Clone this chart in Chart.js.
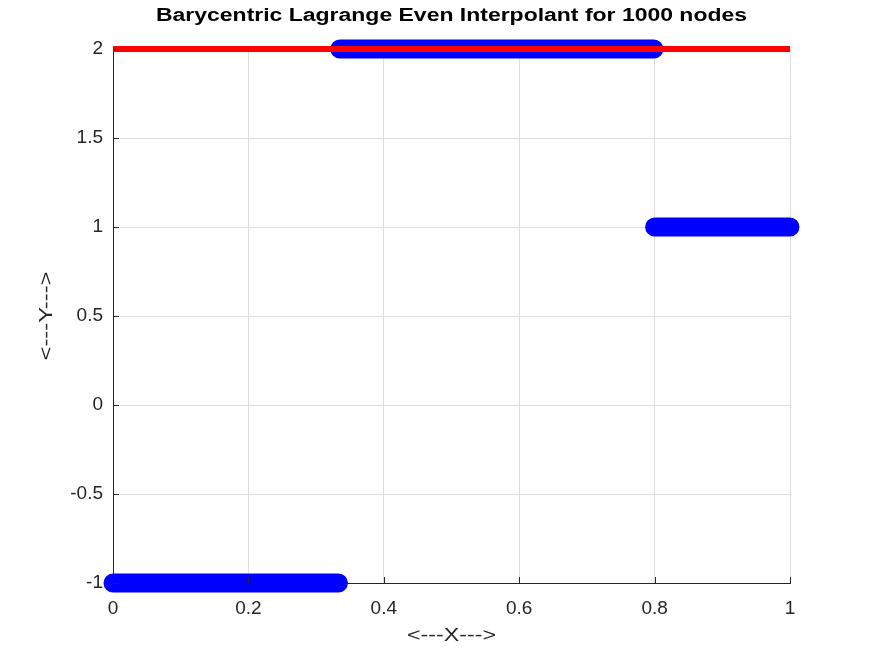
<!DOCTYPE html>
<html>
<head>
<meta charset="utf-8">
<script src="https://cdn.jsdelivr.net/npm/chart.js@4"></script>
<style>
  html, body { margin: 0; padding: 0; background: #fff; }
  #wrap { width: 873px; height: 655px; }
</style>
</head>
<body>
<div id="wrap"><canvas id="interp"></canvas></div>
<script>
// interpolant: the nodes sit on three flat runs, drawn as runs (null = break)
const nodeX = [0, 0.333, null, 0.335, 0.799, null, 0.8, 1];
const nodeY = [-1, -1, null, 2, 2, null, 1, 1];

// the function itself
const funcX = [0, 1];
const funcY = [2, 2];

const xTicks = [0, 0.2, 0.4, 0.6, 0.8, 1];
const yTicks = [-1, -0.5, 0, 0.5, 1, 1.5, 2];

const titleText = "Barycentric Lagrange Even Interpolant for 1000 nodes";
const xLabel = "<---X--->";
const yLabel = "<---Y--->";

const FONT = "'Liberation Sans', Arial, sans-serif";
const INK = "#262626";

// octave puts its ticks inside the box
const innerTicks = {
  id: "innerTicks",
  afterDatasetsDraw(chart) {
    const { ctx, chartArea: a, scales } = chart;
    ctx.save();
    ctx.strokeStyle = INK;
    ctx.lineWidth = 1;
    ctx.beginPath();
    xTicks.forEach((v) => {
      const px = Math.round(scales.x.getPixelForValue(v)) + 0.5;
      ctx.moveTo(px, a.bottom);
      ctx.lineTo(px, a.bottom - 6);
    });
    yTicks.forEach((v) => {
      const py = Math.round(scales.y.getPixelForValue(v)) + 0.5;
      ctx.moveTo(a.left, py);
      ctx.lineTo(a.left + 6, py);
    });
    ctx.stroke();
    ctx.restore();
  },
};

// the text in the original comes out wide, so squeeze it out sideways
function wideText(ctx, text, x, y, font, color, width, angle) {
  ctx.save();
  ctx.font = font;
  ctx.fillStyle = color;
  ctx.textAlign = "center";
  ctx.textBaseline = "middle";
  ctx.translate(x, y);
  if (angle) ctx.rotate(angle);
  ctx.scale(width / ctx.measureText(text).width, 1);
  ctx.fillText(text, 0, 0);
  ctx.restore();
}

const labels = {
  id: "labels",
  afterDraw(chart) {
    const ctx = chart.ctx;
    const a = chart.chartArea;
    const cx = (a.left + a.right) / 2;
    wideText(ctx, titleText, cx, 16, "bold 18px " + FONT, "#000", 591, 0);
    wideText(ctx, xLabel, cx, 636, "18px " + FONT, INK, 89, 0);
    wideText(ctx, yLabel, 47, (a.top + a.bottom) / 2, "18px " + FONT, INK, 89, -Math.PI / 2);
  },
};

new Chart(document.getElementById("interp"), {
  type: "line",
  data: {
    datasets: [
      {
        label: "f",
        data: funcX.map((x, i) => ({ x: x, y: funcY[i] })),
        borderColor: "#ff0000",
        borderWidth: 6,
        pointRadius: 0,
        clip: false,
        order: 0,
      },
      {
        label: "p",
        data: nodeX.map((x, i) => ({ x: x, y: nodeY[i] })),
        borderColor: "#0000ff",
        borderWidth: 19,
        borderCapStyle: "round",
        borderJoinStyle: "round",
        pointRadius: 0,
        spanGaps: false,
        clip: false,
        order: 1,
      },
    ],
  },
  plugins: [innerTicks, labels],
  options: {
    responsive: true,
    maintainAspectRatio: false,
    animation: false,
    layout: { padding: { left: 0, right: 83, top: 49, bottom: 0 } },
    plugins: {
      legend: { display: false },
      tooltip: { enabled: false },
    },
    scales: {
      x: {
        type: "linear",
        min: 0,
        max: 1,
        afterBuildTicks: (s) => { s.ticks = xTicks.map((v) => ({ value: v })); },
        afterFit: (s) => { s.height = 72; },
        ticks: {
          color: INK,
          padding: 14,
          maxRotation: 0,
          font: { family: FONT, size: 19 },
          callback: (v) => String(v),
        },
        grid: { color: "#dedede", drawTicks: false },
        border: { color: INK },
      },
      y: {
        type: "linear",
        min: -1,
        max: 2,
        afterBuildTicks: (s) => { s.ticks = yTicks.map((v) => ({ value: v })); },
        afterFit: (s) => { s.width = 113; },
        ticks: {
          color: INK,
          padding: 10,
          font: { family: FONT, size: 19 },
          callback: (v) => String(v),
        },
        grid: { color: "#dedede", drawTicks: false },
        border: { color: INK },
      },
    },
  },
});
</script>
</body>
</html>
